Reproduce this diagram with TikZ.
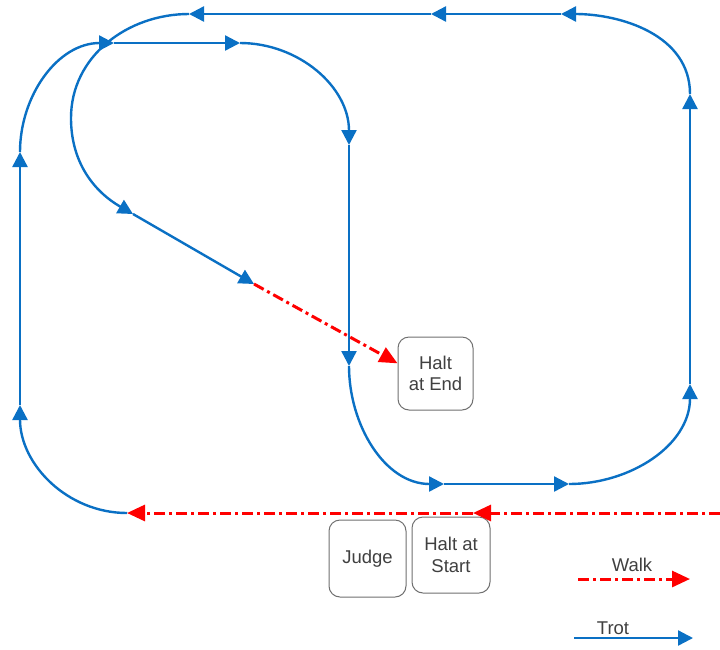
\documentclass[tikz,border=0pt]{standalone}
\usepackage{fontspec}
\setmainfont{Liberation Sans}
\usetikzlibrary{arrows.meta}
\definecolor{trotblue}{HTML}{0A70C4}
\definecolor{walkred}{HTML}{FF0000}
\definecolor{boxgray}{HTML}{707070}
\definecolor{txtgray}{HTML}{404040}
\begin{document}
\begin{tikzpicture}[x=1pt,y=-1pt,
  trot/.style={draw=trotblue,line width=2.4pt,-{Triangle[length=15pt,width=15pt]}},
  walk/.style={draw=walkred,line width=3pt,dash pattern=on 11pt off 4pt on 3pt off 4pt,-{Triangle[length=18pt,width=16pt]}},
  box/.style={draw=boxgray,line width=1pt,rounded corners=11pt,fill=white,align=center,
    text=txtgray,font=\fontsize{18.5}{21.5}\selectfont,inner sep=0pt},
  lbl/.style={text=txtgray,font=\fontsize{18.5}{21.5}\selectfont,inner sep=0pt}]
\useasboundingbox (0,0) rectangle (720,649);
% boxes
\node[box,minimum width=75pt,minimum height=73pt] (haltEnd) at (435.5,373.5) {Halt\\at End};
\node[box,minimum width=77pt,minimum height=77pt] (judge) at (367.5,558.5) {Judge};
\node[box,minimum width=78pt,minimum height=76pt] (haltStart) at (451,555) {Halt at\\Start};
% waypoints
\coordinate (w0) at (720,513);
\coordinate (wm) at (473,513);
\coordinate (w1) at (127,513);
\coordinate (l1) at (20,405);
\coordinate (l2) at (20,152);
\coordinate (t1) at (114,43);
\coordinate (t2) at (240,43);
\coordinate (c1) at (349,145);
\coordinate (c2) at (349,366);
\coordinate (b1) at (444,484);
\coordinate (b2) at (569,484);
\coordinate (r1) at (690,384);
\coordinate (r2) at (690,94);
\coordinate (u1) at (561,14);
\coordinate (u2) at (431,14);
\coordinate (u3) at (189,14);
\coordinate (k1) at (71,118);
\coordinate (d1) at (133,214);
\coordinate (d2) at (254,284);
% walk (bottom)
\draw[walk] (w0) -- (wm);
\draw[walk] (wm) -- (w1);
% trot path
\draw[trot] (w1) to[out=180,in=-90] (l1);
\draw[trot] (l1) -- (l2);
\draw[trot] (l2) to[out=90,in=180] (t1);
\draw[trot] (t1) -- (t2);
\draw[trot] (t2) to[out=0,in=90] (c1);
\draw[trot] (c1) -- (c2);
\draw[trot] (c2) to[out=-90,in=180] (b1);
\draw[trot] (b1) -- (b2);
\draw[trot] (b2) to[out=0,in=-90] (r1);
\draw[trot] (r1) -- (r2);
\draw[trot] (r2) to[out=90,in=0] (u1);
\draw[trot] (u1) -- (u2);
\draw[trot] (u2) -- (u3);
\draw[trot] (u3) to[out=180,in=90] (k1) to[out=-90,in=150] (d1);
\draw[trot] (d1) -- (d2);
% walk to halt
\draw[walk] (d2) -- (haltEnd.165);
% legend
\node[lbl] (walkLbl) at (632,565) {Walk};
\coordinate (lw0) at (578,579);
\coordinate (lw1) at (690,579);
\draw[walk] (lw0) -- (lw1);
\node[lbl] (trotLbl) at (613,628) {Trot};
\coordinate (lt0) at (574,638);
\coordinate (lt1) at (693,638);
\draw[trot] (lt0) -- (lt1);
\end{tikzpicture}
\end{document}
